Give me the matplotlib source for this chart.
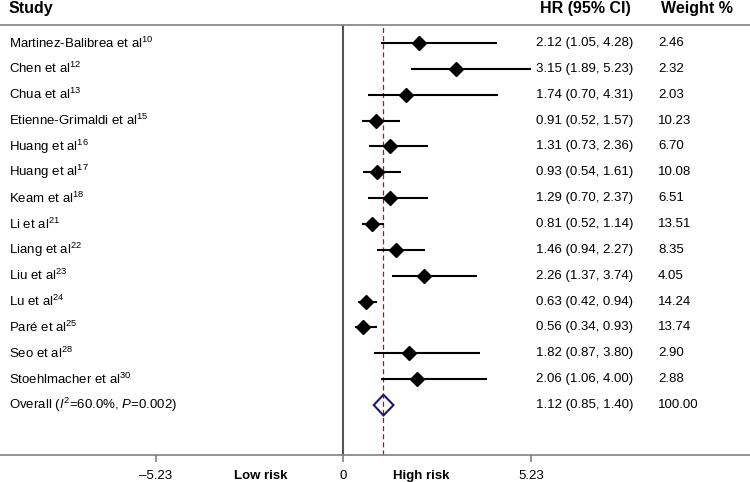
import matplotlib
matplotlib.use('Agg')
import matplotlib.pyplot as plt
from matplotlib.patches import Polygon

plt.rcParams['font.family'] = ['Liberation Sans', 'DejaVu Sans']
plt.rcParams['mathtext.fontset'] = 'custom'
plt.rcParams['mathtext.rm'] = 'Liberation Sans'
plt.rcParams['mathtext.it'] = 'Liberation Sans:italic'

# Datos del forest plot
studies = ['Martinez-Balibrea et al', 'Chen et al', 'Chua et al', 'Etienne-Grimaldi et al',
           'Huang et al', 'Huang et al', 'Keam et al', 'Li et al', 'Liang et al', 'Liu et al',
           'Lu et al', 'Paré et al', 'Seo et al', 'Stoehlmacher et al']
refs = ['10', '12', '13', '15', '16', '17', '18', '21', '22', '23', '24', '25', '28', '30']
hr = [2.12, 3.15, 1.74, 0.91, 1.31, 0.93, 1.29, 0.81, 1.46, 2.26, 0.63, 0.56, 1.82, 2.06]
lo = [1.05, 1.89, 0.70, 0.52, 0.73, 0.54, 0.70, 0.52, 0.94, 1.37, 0.42, 0.34, 0.87, 1.06]
hi = [4.28, 5.23, 4.31, 1.57, 2.36, 1.61, 2.37, 1.14, 2.27, 3.74, 0.94, 0.93, 3.80, 4.00]
weights = ['2.46', '2.32', '2.03', '10.23', '6.70', '10.08', '6.51', '13.51', '8.35',
           '4.05', '14.24', '13.74', '2.90', '2.88']
overall_hr, overall_lo, overall_hi = 1.12, 0.85, 1.40
overall_label = 'Overall ($I^2$=60.0%, $P$=0.002)'
ticks = [-5.23, 0, 5.23]
tick_labels = ['–5.23', '0', '5.23']

fig = plt.figure(figsize=(7.5, 4.82), dpi=100)
ax = fig.add_axes([0, 27 / 482, 1, 430 / 482])
ax.set_xlim(-9.576, 11.345)
ax.set_ylim(15.93, -0.696)

x_study, x_hr, x_w = -9.33, 5.375, 8.78
fs = 9.5

for i, name in enumerate(studies):
    ax.plot([lo[i], hi[i]], [i, i], color='black', lw=1.5, solid_capstyle='butt', zorder=3)
    ax.plot(hr[i], i, marker='D', color='black', markersize=7.5, zorder=4)
    ax.text(x_study, i, name + '$^{' + refs[i] + '}$', fontsize=fs, va='center', ha='left')
    ax.text(x_hr, i, f'{hr[i]:.2f} ({lo[i]:.2f}, {hi[i]:.2f})', fontsize=fs, va='center')
    ax.text(x_w, i, weights[i], fontsize=fs, va='center')

n = len(studies)
dia = Polygon([[overall_lo, n], [overall_hr, n - 0.4], [overall_hi, n], [overall_hr, n + 0.4]],
              closed=True, fill=False, edgecolor='#1a1a70', lw=1.5, zorder=4)
ax.add_patch(dia)
ax.text(x_study, n, overall_label, fontsize=fs, va='center')
ax.text(x_hr, n, f'{overall_hr:.2f} ({overall_lo:.2f}, {overall_hi:.2f})', fontsize=fs, va='center')
ax.text(x_w, n, '100.00', fontsize=fs, va='center')

# Lineas de referencia
ax.axvline(0, color='#555555', lw=1.5, zorder=2)
ax.axvline(overall_hr, color='#8b2323', lw=0.9, ls=(0, (4, 2.5)), zorder=2)

# Encabezados
ax.text(x_study, -1.32, 'Study', fontsize=11.5, fontweight='bold', va='center', clip_on=False)
ax.text(5.49, -1.32, 'HR (95% CI)', fontsize=11.5, fontweight='bold', va='center', clip_on=False)
ax.text(8.86, -1.32, 'Weight %', fontsize=11.5, fontweight='bold', va='center', clip_on=False)

for s in ['left', 'right']:
    ax.spines[s].set_visible(False)
for s in ['top', 'bottom']:
    ax.spines[s].set_color('#808080')
    ax.spines[s].set_linewidth(1.2)
ax.set_yticks([])
ax.set_xticks(ticks)
ax.set_xticklabels(tick_labels, fontsize=fs)
ax.tick_params(axis='x', length=5, width=1.2, color='#808080', pad=6)

ax.text(-2.315, 16.75, 'Low risk', fontsize=fs, fontweight='bold', ha='center', va='center', clip_on=False)
ax.text(2.18, 16.75, 'High risk', fontsize=fs, fontweight='bold', ha='center', va='center', clip_on=False)

fig.savefig('out.png', dpi=100)
plt.close(fig)
